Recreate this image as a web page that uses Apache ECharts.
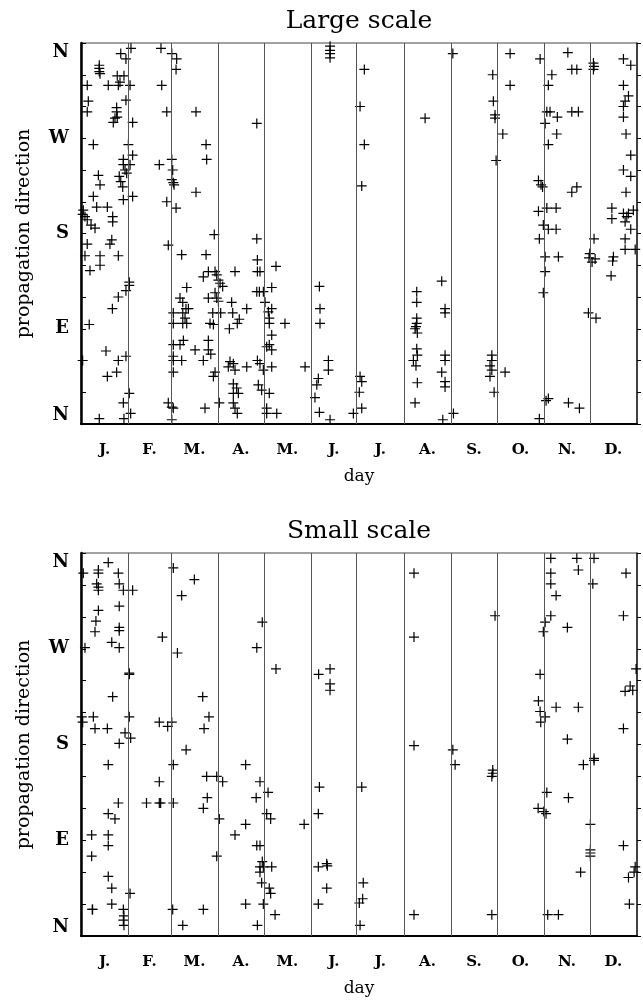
<!DOCTYPE html>
<html><head><meta charset="utf-8">
<script src="https://cdn.jsdelivr.net/npm/echarts@6/dist/echarts.min.js"></script>
<style>html,body{margin:0;padding:0;background:#fff}#c{width:643px;height:1000px}</style>
</head><body><div id="c"></div>
<script>
const monthLabels = ['J.','F.','M.','A.','M.','J.','J.','A.','S.','O.','N.','D.'];
const monthBounds = [31,59,90,120,151,181,212,243,273,304,334];
const monthMids = [15.5,45,74.5,105,135.5,166,196.5,227.5,258,288.5,319,349.5];
const dirValues = [0,90,180,270,360];
const dirLabels = ['N','E','S','W','N'];
const panelTitles = ['Large scale','Small scale'];

const largeScale = [
[32.8,355],[26.1,350],[29.5,345],[12,339],[12,336],[12,333],[12.5,331],[23.8,329],[28.2,329],[25.6,323],
[4.1,320],[17.9,320],[24.5,320],[32.2,320],[4.8,305],[29.5,306],[4.1,295],[23.4,299],[23.4,295],[22.3,289],[21.2,285],[23.8,290],[33.9,285],
[8.1,264],[31.1,264],[33.9,254],[27.8,250],[27.8,245],[28.9,240],[32.2,245],[30,237],[25.1,234],[26.1,229],[27.4,224],[27.8,212],[33.9,215],
[11.4,235],[12.5,226],[8.1,215],[10.3,205],[17.3,205],[20.8,196],[20.8,191],
[1.5,202],[2.6,196],[4.1,193],[9.2,185],[1.1,198],[6.6,188],
[4.1,170],[19,170],[20.2,174],[2.6,159],[12.5,159],[24.5,159],[5.9,145],[12.5,150],
[31.7,134],[31.7,131],[29.5,126],[24.5,120],[20.6,109],[5.4,94],
[16.4,69],[24.5,60],[29.5,64],[23.4,49],[17.3,45],[1.1,60],
[31.7,29],[27.8,20],[32.6,10],[28.2,5],[12,5],
[52.5,355],[59.6,350],[62.8,345],[62.4,335],[53,320],[56.3,295],[75.5,295],
[51.4,245],[59.6,250],[60.2,240],[59.6,231],[60.6,228],[61.1,226],[56.3,210],[62.4,204],[75.5,219],
[82.1,264],[82.5,250],[87.5,179],[115.4,284],[115.4,175],[57.3,169],[66.1,160],[82.1,160],[115.8,155],[128,149],
[69.4,129],[65,119],[66.8,115],[68.9,109],[70.5,109],[60.6,105],[66.8,105],[68.3,100],[60.6,95],[66.8,95],[69.4,95],[67.2,79],[60.6,75],[65,75],[60.6,64],[60.6,60],[66.1,60],[60.6,49],[74.9,70],[80.3,60],[57.3,20],[59.6,16],[60.6,15],[59.6,4],[81.4,15],
[80.3,139],[83.6,144],[88,144],[89.1,141],[90.2,136],[91.3,133],[93,130],[83.6,119],[88,124],[89.1,119],[90.2,116],[86.5,105],[91.7,105],[84.7,95],[86.9,94],[83.6,79],[83.6,70],[85.2,66],[88,49],[86.9,45],[90.8,20],
[98.9,115],[108.8,109],[99.6,105],[103.9,99],[102.6,95],[97.4,90],[101.1,144],
[97.8,59],[100,57],[96.7,54],[101.1,51],[108.8,54],[100,38],[102.2,34],[100,29],[103.3,29],[100,20],[101.1,15],[102.6,10],
[115.8,144],[117.5,144],[115.4,125],[117.1,125],[119.7,125],[125.2,129],[120.8,115],[125.2,109],[123,106],[123.6,100],[123.6,95],[125.2,84],[123.6,75],[125.2,70],[121.9,73],[133.9,95],[115.8,60],[119.7,51],[125.2,54],[116.4,37],[118.6,32],[123.6,29],[121.9,15],[128.5,10],[121.9,10],[147.1,54],[117.5,57],
[156.5,130],[156.9,109],[156.9,95],[162.4,60],[162.4,51],[155.8,43],[154.8,37],[153.6,25],[156.5,11],[163.5,4],[178.8,10],[183.2,45],[184.3,40],[182.7,30],[184.3,15],
[163.5,357],[163.5,353],[163.5,350],[163.5,346],[186,335],[183.2,300],[186,264],[184.3,225],[225.9,289],
[244.1,350],[220.4,125],[220.4,115],[220.4,100],[220.4,95],[219.9,92],[219.3,90],[220.8,86],[220.4,71],[220.8,65],[218.2,60],[219.9,55],[220.8,39],[219.3,20],
[236.8,135],[239,109],[239,105],[239,65],[239,60],[236.8,49],[239,40],[239,35],[237.5,4],[244.5,10],
[269.7,65],[268.5,55],[269.7,51],[268.5,45],[278.4,49],[271.2,30],[269.7,60],
[281.7,350],[281.7,320],[270.3,330],[270.7,305],[271.8,289],[271.8,292],[276.9,274],[272.5,249],
[301.4,345],[319.6,351],[322.2,335],[325.5,335],[309.1,330],[306.8,320],[305.8,295],[307.9,295],[312.7,290],[304.7,284],[322.2,295],[326.5,295],[312.3,274],[306.8,264],
[300.3,230],[302,226],[303,224],[322.2,219],[325.5,224],[300.3,201],[305.8,204],[311.9,204],[303.5,188],[306.8,184],[311.9,184],[300.9,175],
[336.4,341],[336.8,338],[336.4,335],[356.1,345],[360.9,339],[356.1,320],[359.4,310],[357.2,305],[356.1,300],[356.1,290],[357.8,274],[360.9,254],[356.1,240],[360.9,234],[357.8,219],
[336.8,175],[348.5,204],[348.5,194],[356.1,199],[358.3,196],[359.4,199],[362.6,202],[357.2,191],[360.9,184],[357.2,175],
[304.7,158],[313.4,158],[304.7,144],[303.5,124],[305.3,22],[306.8,24],[320,20],[327.2,15],[300.9,5],
[333.5,157],[335.5,153],[337.5,156],[334,161],[333.1,105],[338.1,100],[349.5,158],[349,154],[348,140],[357.2,165],[363.8,165]
];

const smallScale = [
[1.5,341],[17.9,351],[11.4,344],[11.4,341],[24.5,341],[10.3,331],[11.4,328],[11.4,325],[25.1,331],[27.8,325],[33.9,325],
[11.4,306],[25.1,310],[9.8,296],[9.2,286],[25.1,290],[25.1,287],[20.2,276],[25.1,271],[2.6,271],
[31.7,247],[31.7,246],[20.8,225],[0.5,206],[8.1,206],[31.7,206],[1.1,201],[9.2,195],[17.3,195],[28.9,191],[32.6,186],[25.1,181],
[17.9,161],[24.5,125],[17.9,115],[22.3,110],[7,95],[17.9,95],[17.9,85],[7,75],[17.9,56],[20.2,45],[20.2,30],[7.6,25],[7.4,25],[27.8,25],[28.2,19],[27.8,15],[28.2,10],[32.2,40],
[60.6,346],[74.4,335],[66.1,320],[53.4,281],[63.3,266],[79.9,225],
[51.4,201],[56.9,197],[59.6,201],[80.8,195],[84,206],[69,175],
[51.4,145],[43,125],[51.4,125],[52.3,125],[60.6,125],[60.6,161],[82.5,150],[89.1,150],[93,145],[82.9,130],[80.3,120],[90.8,110],[89.1,75],
[60.2,25],[80.3,25],[66.8,10],
[115.4,271],[119,295],[128,251],
[108.1,161],[117.5,145],[122.8,135],[115,130],[121.9,115],[124.5,110],[108.1,105],[101.1,95],[115.4,85],[117.5,85],[119,70],[117.5,65],[119.7,65],[125.2,65],[117.5,60],[118.6,50],[123.6,45],[124.5,40],[108.1,30],[119.7,30],[127.4,20],[115.8,10],[146.5,105],
[156.5,140],[155.8,115],[155.8,65],[161.3,68],[161.7,66],[161.3,45],[155.8,30],
[156,246],[163.5,251],[163.5,237],[163.5,231],
[184.3,140],[185.3,50],[184.9,35],[182.7,31],[183.2,10],
[218.6,341],[218.6,281],[218.6,179],[218.6,20],
[244.1,175],[245.6,161],[270.3,156],[270.3,153],[269.7,150],[269.7,20],[271.8,301],
[308.4,355],[325.5,355],[336.8,355],[326.5,344],[308.4,341],[308.4,331],[311.9,320],[308.4,301],[304.7,295],[303.5,286],[319.3,290],[336,331],
[301.4,246],[300.3,221],[301.4,211],[304.7,206],[301.8,201],[311.9,215],[326.5,215],
[319.3,185],[336.8,167],[300.1,120],[305.8,135],[305.3,115],[303.8,117],[320,130],[329.8,161],[336.8,165],
[334.4,105],[334.4,81],[334.4,78],[334.4,75],[328,60],[306.4,20],[313.4,20],
[357.8,341],[356.1,301],[364.4,251],[360.5,235],[357.2,230],[362.2,231],[356.1,195],
[356.1,85],[363.8,65],[363.1,60],[359.4,55],[360,30]
];

const SERIF = '"DejaVu Serif", "Liberation Serif", serif';
const PLUS = 'path://M0,4.4H10V5.6H0Z M4.4,0H5.6V10H4.4Z';
const grids = [
  {left:81, width:556, top:43, height:381},
  {left:81, width:556, top:553, height:383}
];
const datasets = [largeScale, smallScale];

const chart = echarts.init(document.getElementById('c'), null, {renderer:'canvas'});
const xAxes = [], yAxes = [], series = [], graphics = [];
grids.forEach((g, i) => {
  xAxes.push({
    type:'value', gridIndex:i, min:0, max:365,
    axisLine:{show:true, onZero:false, lineStyle:{color:'#000', width:2}},
    axisTick:{show:false}, splitLine:{show:false},
    axisLabel:{
      customValues: monthMids,
      formatter: v => { const k = monthMids.findIndex(m => Math.abs(m - v) < 0.01); return k >= 0 ? monthLabels[k] : ''; },
      fontFamily:SERIF, fontWeight:'bold', fontSize:15, color:'#000', margin:19
    },
    name:'day', nameLocation:'middle', nameGap:44,
    nameTextStyle:{fontFamily:SERIF, fontSize:17, color:'#000'}
  });
  yAxes.push({
    type:'value', gridIndex:i, min:0, max:360, interval:30, position:'left',
    axisLine:{show:true, onZero:false, lineStyle:{color:'#000', width:2.5}},
    axisTick:{show:true, inside:true, length:5, lineStyle:{color:'#000', width:1}},
    splitLine:{show:false},
    axisLabel:{
      formatter: v => { const k = dirValues.indexOf(v); return k >= 0 ? dirLabels[k] : ''; },
      fontFamily:SERIF, fontWeight:'bold', fontSize:18, color:'#000', margin:12,
      verticalAlignMinLabel:'bottom', verticalAlignMaxLabel:'top'
    },
    name:'propagation direction', nameLocation:'middle', nameGap:47, nameRotate:90,
    nameTextStyle:{fontFamily:SERIF, fontSize:19, color:'#000'}
  });
  yAxes.push({
    type:'value', gridIndex:i, min:0, max:360, interval:30, position:'right',
    axisLine:{show:true, onZero:false, lineStyle:{color:'#222', width:1.5}},
    axisTick:{show:true, inside:false, length:4, lineStyle:{color:'#000', width:1}},
    axisLabel:{show:false}, splitLine:{show:false}
  });
  series.push({
    type:'scatter', xAxisIndex:i, yAxisIndex:i*2,
    data: datasets[i], symbol:PLUS, symbolSize:10,
    itemStyle:{color:'#000', opacity:1},
    silent:true, animation:false,
    markLine:{
      silent:true, symbol:['none','none'], label:{show:false},
      lineStyle:{color:'#555', width:1, type:'solid'},
      data: monthBounds.map(b => ({xAxis:b}))
    }
  });
  graphics.push({
    type:'text', x: g.left + g.width/2, y: g.top - 22,
    style:{text: panelTitles[i], font: '25px ' + SERIF, fill:'#000', align:'center', verticalAlign:'middle'}
  });
});

chart.setOption({
  animation:false,
  backgroundColor:'#fff',
  grid: grids.map(g => Object.assign({show:true, borderColor:'#444', borderWidth:1, backgroundColor:'transparent'}, g)),
  xAxis: xAxes, yAxis: yAxes, series: series, graphic: graphics
});
</script>
</body></html>
